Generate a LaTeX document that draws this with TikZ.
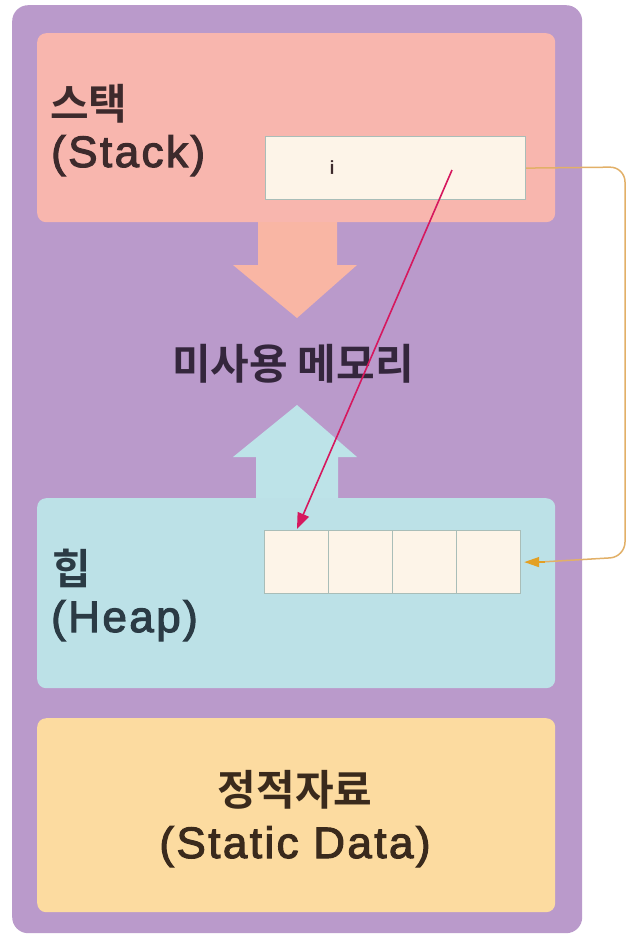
\documentclass[tikz,border=0pt]{standalone}
\usepackage{fontspec}
\setmainfont{Noto Sans CJK KR}
\newfontfamily\krbold{Noto Sans CJK KR Bold}
\newfontfamily\latinf[FakeBold=2.5,LetterSpace=5.5]{Liberation Sans}
\usetikzlibrary{arrows.meta,calc}
\definecolor{frame}{HTML}{BA9ACB}
\definecolor{stackc}{HTML}{F8B6AE}
\definecolor{heapc}{HTML}{BCE1E7}
\definecolor{staticc}{HTML}{FCDBA0}
\definecolor{cellc}{HTML}{FDF4E8}
\definecolor{cellline}{HTML}{A9BDB8}
\definecolor{txt}{HTML}{3D2A2C}
\definecolor{midtxt}{HTML}{34263C}
\definecolor{heaptxt}{HTML}{2B3B45}
\definecolor{stattxt}{HTML}{3A2A1C}
\definecolor{redarr}{HTML}{D6185E}
\definecolor{orangeln}{HTML}{E2B068}
\definecolor{orangetip}{HTML}{E3A024}
\definecolor{downarr}{HTML}{F9B6A4}
\definecolor{uparr}{HTML}{BDE3E8}
\tikzset{
  region/.style={anchor=north west, inner sep=0pt, rounded corners=9pt},
  cellbox/.style={draw=cellline, line width=1.2pt, fill=cellc, anchor=north west, inner sep=0pt, minimum height=63pt},
  krlbl/.style={font=\krbold\fontsize{42}{42}\selectfont, inner sep=0pt},
  enlbl/.style={font=\latinf\fontsize{44}{44}\selectfont, inner sep=0pt},
}
\begin{document}
\begin{tikzpicture}[x=1pt,y=-1pt]
\useasboundingbox (0,0) rectangle (629,937);
\fill[white] (0,0) rectangle (629,937);
% outer frame
\node[region, fill=frame, rounded corners=16pt, minimum width=570pt, minimum height=928pt] (frame) at (12,5) {};
% regions
\node[region, fill=stackc, minimum width=518pt, minimum height=189pt] (stack) at (37,33) {};
\node[region, fill=heapc, minimum width=518pt, minimum height=190pt] (heap) at (37,498) {};
\node[region, fill=staticc, minimum width=518pt, minimum height=194pt] (static) at (37,718) {};
% big arrows
\fill[downarr] (258,222) -- (337,222) -- (337,265) -- (357,265) -- (297,318) -- (233,265) -- (258,265) -- cycle;
\fill[uparr] (256,498) -- (338,498) -- (338,457) -- (357,457) -- (297,405) -- (233,457) -- (256,457) -- cycle;
% labels
\node[krlbl, text=txt, anchor=base west] (stackkr) at (50,119) {스택};
\node[enlbl, text=txt, anchor=base west] (stacken) at (51,167) {(Stack)};
\node[krlbl, text=heaptxt, anchor=base west] (heapkr) at (52,584) {힙};
\node[enlbl, text=heaptxt, anchor=base west] (heapen) at (51,632) {(Heap)};
\node[krlbl, text=midtxt, anchor=base] (unused) at (293,379) {미사용 메모리};
\node[krlbl, text=stattxt, anchor=base] (statkr) at (295,805) {정적자료};
\node[enlbl, text=stattxt, anchor=base] (staten) at (295,858) {(Static Data)};
% i box
\node[cellbox, minimum width=260pt] (ibox) at (265,136) {};
\node[font=\latinf\fontsize{18}{18}\selectfont, text=txt, inner sep=0pt] (ilbl) at (332,167) {i};
% heap cells
\node[cellbox, minimum width=64pt] (c1) at (264,530) {};
\node[cellbox, minimum width=64pt] (c2) at (328,530) {};
\node[cellbox, minimum width=64pt] (c3) at (392,530) {};
\node[cellbox, minimum width=64pt] (c4) at (456,530) {};
% connectors
\coordinate (rstart) at (452,170);
\coordinate (rend) at (297,529);
\draw[redarr, line width=1.6pt, -{Triangle[length=16pt,width=12pt]}] (rstart) -- (rend);
\coordinate (turn1) at (625,167);
\coordinate (turn2) at (625,557);
\coordinate (ostop) at ($(c4.east)+(18,0)$);
\coordinate (otail) at ($(c4.east)+(24,0)$);
\coordinate (ohead) at ($(c4.east)+(3,0)$);
\draw[orangeln, line width=1.5pt, rounded corners=15pt] (ibox.east) -- (turn1) -- (turn2) -- (ostop);
\draw[orangetip, line width=1.5pt, -{Triangle[length=15pt,width=10pt]}] (otail) -- (ohead);
\end{tikzpicture}
\end{document}
